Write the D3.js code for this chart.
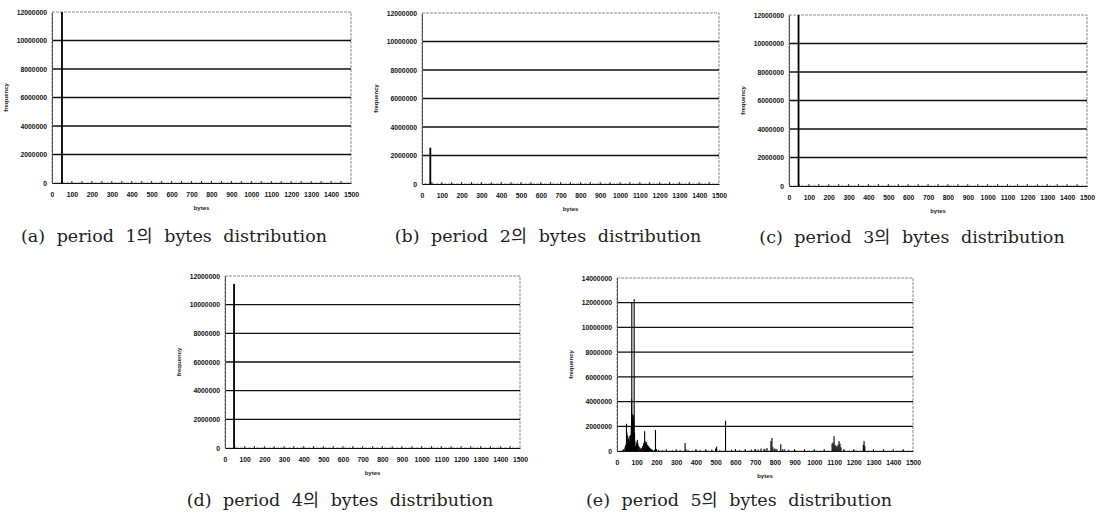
<!DOCTYPE html>
<html>
<head>
<meta charset="utf-8">
<script src="https://cdn.jsdelivr.net/npm/d3@7"></script>
<style>
  html, body { margin: 0; padding: 0; background: #fff; }
  svg { display: block; }
  .tick-lbl { font-family: "Liberation Sans", Arial, sans-serif; font-size: 6.8px; font-weight: bold; fill: #111; }
  .ax-title { font-family: "Liberation Sans", Arial, sans-serif; font-size: 6px; font-weight: bold; fill: #222; }
  .caption { font-family: "DejaVu Serif", "Liberation Serif", "Noto Sans CJK KR", serif; font-size: 17.5px; fill: #222; word-spacing: 6px; }
</style>
</head>
<body>
<svg id="chart" width="1100" height="515"></svg>
<script>
// ---------------- data ----------------
const xTickValues = [0,100,200,300,400,500,600,700,800,900,1000,1100,1200,1300,1400,1500];
const yTicks12 = [0,2000000,4000000,6000000,8000000,10000000,12000000];
const yTicks14 = [0,2000000,4000000,6000000,8000000,10000000,12000000,14000000];

const captions = [
  "(a) period 1의 bytes distribution",
  "(b) period 2의 bytes distribution",
  "(c) period 3의 bytes distribution",
  "(d) period 4의 bytes distribution",
  "(e) period 5의 bytes distribution"
];

// period 1 : one dominant packet size (bar runs off the top of the axis)
const p1Bytes = [50];
const p1Freq  = [12000000];
// period 2
const p2Bytes = [42];
const p2Freq  = [2550000];
// period 3
const p3Bytes = [48];
const p3Freq  = [12000000];
// period 4
const p4Bytes = [46];
const p4Freq  = [11450000];
// period 5 : many packet sizes
const p5Bytes = [30,35,40,44,48,50,52,55,58,60,62,65,68,70,72,74,75,77,79,81,83,85,87,89,91,93,95,98,100,103,106,110,115,120,125,130,135,138,140,143,146,150,155,160,165,170,175,180,190,195,200,210,230,250,280,300,320,345,360,400,420,450,480,500,505,520,550,580,600,620,650,680,700,715,730,745,760,780,785,790,800,810,830,840,870,900,950,1000,1050,1090,1095,1100,1105,1110,1115,1120,1125,1130,1135,1150,1200,1248,1252,1256,1300,1350,1400,1450];
const p5Freq  = [100000,150000,300000,500000,2200000,1500000,1300000,600000,1000000,500000,1200000,800000,1300000,1100000,2000000,4200000,12000000,3000000,2800000,2000000,2500000,2900000,12300000,1500000,800000,400000,300000,500000,700000,900000,600000,400000,300000,200000,250000,400000,600000,700000,1600000,800000,600000,700000,500000,400000,300000,200000,150000,100000,100000,1700000,100000,80000,50000,40000,50000,40000,60000,650000,50000,100000,60000,80000,100000,200000,350000,50000,2450000,100000,120000,80000,100000,120000,150000,120000,200000,180000,250000,800000,1050000,300000,200000,150000,550000,150000,100000,100000,80000,60000,50000,600000,700000,1200000,500000,400000,350000,500000,800000,600000,300000,100000,100000,500000,800000,400000,50000,60000,50000,60000];

// ---------------- layout ----------------
const panels = [
  {bytes:p1Bytes, freq:p1Freq, yTicks:yTicks12, L:52,  R:351, T:12,  B:183, capX:174, capY:242},
  {bytes:p2Bytes, freq:p2Freq, yTicks:yTicks12, L:422, R:719, T:13,  B:184, capX:548, capY:242},
  {bytes:p3Bytes, freq:p3Freq, yTicks:yTicks12, L:789, R:1087,T:15,  B:186, capX:912, capY:243},
  {bytes:p4Bytes, freq:p4Freq, yTicks:yTicks12, L:225, R:520, T:276, B:448, capX:340, capY:506},
  {bytes:p5Bytes, freq:p5Freq, yTicks:yTicks14, L:617, R:913, T:278, B:451, capX:739, capY:506}
];

const svg = d3.select("#chart");

panels.forEach((p, i) => {
  const yMax = d3.max(p.yTicks);
  const x = d3.scaleLinear().domain([0, 1500]).range([p.L, p.R]);
  const y = d3.scaleLinear().domain([0, yMax]).range([p.B, p.T]);
  const g = svg.append("g");

  // plot border (light, dotted-looking like the scan)
  g.append("rect")
    .attr("x", p.L).attr("y", p.T)
    .attr("width", p.R - p.L).attr("height", p.B - p.T)
    .attr("fill", "none").attr("stroke", "#8a8a8a").attr("stroke-width", 1)
    .attr("stroke-dasharray", "3,1");

  // horizontal gridlines
  g.selectAll("line.grid")
    .data(p.yTicks.filter(v => v > 0 && v < yMax))
    .enter().append("line")
    .attr("class", "grid")
    .attr("x1", p.L).attr("x2", p.R)
    .attr("y1", d => y(d)).attr("y2", d => y(d))
    .attr("stroke", "#111").attr("stroke-width", 1.3);

  // y axis (labels only)
  const yAxis = d3.axisLeft(y).tickValues(p.yTicks).tickSize(0).tickPadding(5)
    .tickFormat(d3.format("d"));
  const ya = g.append("g").attr("transform", `translate(${p.L},0)`).call(yAxis);
  ya.select(".domain").attr("stroke", "#555").attr("stroke-width", 1);
  ya.selectAll("text").attr("class", "tick-lbl").attr("font-size", null).attr("font-family", null);

  // x axis
  const xAxis = d3.axisBottom(x).tickValues(xTickValues).tickSize(0).tickPadding(9)
    .tickFormat(d3.format("d"));
  const xa = g.append("g").attr("transform", `translate(0,${p.B})`).call(xAxis);
  xa.select(".domain").attr("stroke", "#111").attr("stroke-width", 1.2);
  xa.selectAll("text").attr("class", "tick-lbl").attr("font-size", null).attr("font-family", null);

  // small minor tick marks along the x axis
  g.selectAll("line.mt")
    .data(d3.range(50, 1500, 50))
    .enter().append("line")
    .attr("class", "mt")
    .attr("x1", d => x(d)).attr("x2", d => x(d))
    .attr("y1", p.B).attr("y2", p.B - 2)
    .attr("stroke", "#333").attr("stroke-width", 1);

  // bars
  const data = p.bytes.map((b, k) => ({b, f: p.freq[k]}));
  const bw = (i === 4) ? 1.1 : 1.8;
  g.selectAll("rect.bar")
    .data(data)
    .enter().append("rect")
    .attr("class", "bar")
    .attr("x", d => x(d.b) - bw / 2)
    .attr("width", bw)
    .attr("y", d => y(Math.min(d.f, yMax)))
    .attr("height", d => p.B - y(Math.min(d.f, yMax)))
    .attr("fill", "#000");

  // axis titles
  g.append("text")
    .attr("class", "ax-title")
    .attr("transform", `translate(${p.L - 44},${(p.T + p.B) / 2}) rotate(-90)`)
    .attr("text-anchor", "middle")
    .text("frequency");
  g.append("text")
    .attr("class", "ax-title")
    .attr("x", (p.L + p.R) / 2).attr("y", p.B + 27)
    .attr("text-anchor", "middle")
    .text("bytes");

  // caption
  svg.append("text")
    .attr("class", "caption")
    .attr("x", p.capX).attr("y", p.capY)
    .attr("text-anchor", "middle")
    .text(captions[i]);
});
</script>
</body>
</html>
